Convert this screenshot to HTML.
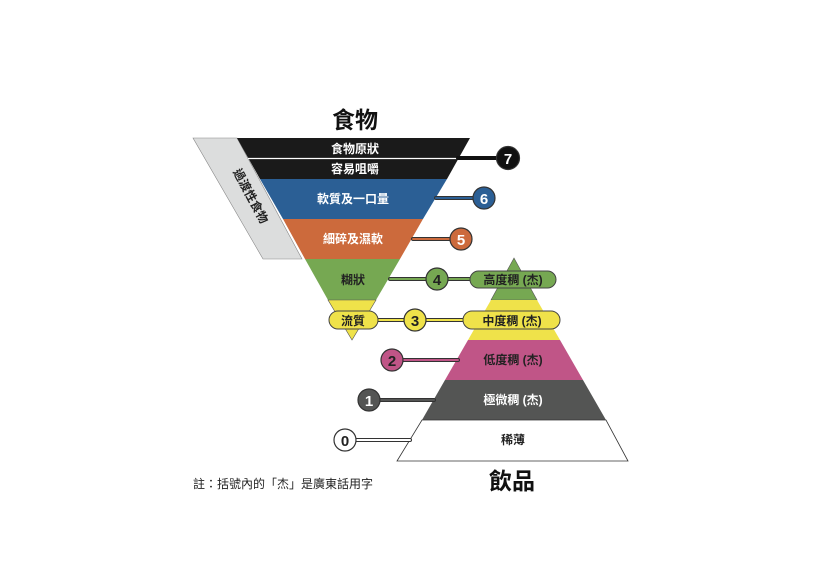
<!DOCTYPE html>
<html><head><meta charset="utf-8"><style>
html,body{margin:0;padding:0;background:#fff;}
svg{display:block;}
text{font-family:"Liberation Sans","Noto Sans CJK TC",sans-serif;font-weight:bold;}
</style></head><body>
<svg width="814" height="562" viewBox="0 0 814 562" xmlns="http://www.w3.org/2000/svg">
<rect width="814" height="562" fill="#fff"/>
<text x="355" y="128" font-size="23" text-anchor="middle" fill="#111">食物</text>
<!-- gray parallelogram -->
<polygon points="193,138 237,138 302,259 263,259" fill="#dcdddd" stroke="#888" stroke-width="0.6"/>
<text transform="translate(247,198) rotate(62)" font-size="12" text-anchor="middle" fill="#222">過渡性食物</text>
<!-- inverted triangle bands -->
<polygon points="237,138 470,138 447,179 260,179" fill="#1a1a1a"/>
<line x1="248" y1="158.5" x2="458" y2="158.5" stroke="#fff" stroke-width="1.2"/>
<polygon points="260,179 447,179 423,219 283,219" fill="#2b5f95"/>
<polygon points="283,219 423,219 400,259 305,259" fill="#cc6a3c"/>
<polygon points="305,259 400,259 376,300 328,300" fill="#76a852"/>
<polygon points="328,300 376,300 352,340" fill="#efe24a" stroke="#555" stroke-width="0.6"/>
<text x="355" y="153" font-size="12" text-anchor="middle" fill="#fff">食物原狀</text>
<text x="355" y="173" font-size="12" text-anchor="middle" fill="#fff">容易咀嚼</text>
<text x="353" y="203" font-size="12" text-anchor="middle" fill="#fff">軟質及一口量</text>
<text x="353" y="243" font-size="12" text-anchor="middle" fill="#fff">細碎及濕軟</text>
<text x="353" y="284" font-size="12" text-anchor="middle" fill="#222">糊狀</text>
<!-- upright pyramid -->
<polygon points="514,258 537,300 491,300" fill="#76a852" stroke="#555" stroke-width="0.6"/>
<polygon points="491,300 537,300 560,340 468,340" fill="#efe24a"/>
<polygon points="468,340 560,340 583,380 445,380" fill="#c05587"/>
<polygon points="445,380 583,380 606,420 422,420" fill="#545554"/>
<polygon points="422,420 606,420 628,461 397,461" fill="#fff" stroke="#333" stroke-width="0.8"/>
<text x="513" y="364" font-size="12" text-anchor="middle" fill="#222">低度稠 (杰)</text>
<text x="513" y="404" font-size="12" text-anchor="middle" fill="#fff">極微稠 (杰)</text>
<text x="513" y="444" font-size="12" text-anchor="middle" fill="#222">稀薄</text>
<text x="512" y="489" font-size="23" text-anchor="middle" fill="#111">飲品</text>
<!-- connectors -->
<g stroke-linecap="round">
<line x1="458" y1="158" x2="500" y2="158" stroke="#111" stroke-width="4"/>
<line x1="436" y1="198" x2="476" y2="198" stroke="#333" stroke-width="4"/><line x1="436" y1="198" x2="476" y2="198" stroke="#2b5f95" stroke-width="2"/>
<line x1="413" y1="239" x2="453" y2="239" stroke="#333" stroke-width="4"/><line x1="413" y1="239" x2="453" y2="239" stroke="#cc6a3c" stroke-width="2"/>
<line x1="390" y1="279" x2="475" y2="279" stroke="#333" stroke-width="4"/><line x1="390" y1="279" x2="475" y2="279" stroke="#76a852" stroke-width="2"/>
<line x1="375" y1="320" x2="468" y2="320" stroke="#333" stroke-width="4"/><line x1="375" y1="320" x2="468" y2="320" stroke="#efe24a" stroke-width="2"/>
<line x1="400" y1="360" x2="458" y2="360" stroke="#333" stroke-width="4"/><line x1="400" y1="360" x2="458" y2="360" stroke="#c05587" stroke-width="2"/>
<line x1="377" y1="400" x2="434" y2="400" stroke="#333" stroke-width="4"/><line x1="377" y1="400" x2="434" y2="400" stroke="#545554" stroke-width="2"/>
<line x1="353" y1="440" x2="410" y2="440" stroke="#333" stroke-width="4"/><line x1="353" y1="440" x2="410" y2="440" stroke="#fff" stroke-width="2"/>
</g>
<!-- pills -->
<rect x="470" y="271" width="86" height="17" rx="8.5" fill="#76a852" stroke="#444" stroke-width="1"/>
<text x="513" y="284" font-size="12" text-anchor="middle" fill="#222">高度稠 (杰)</text>
<rect x="463" y="311" width="97" height="18" rx="9" fill="#efe24a" stroke="#444" stroke-width="1"/>
<text x="512" y="325" font-size="12" text-anchor="middle" fill="#222">中度稠 (杰)</text>
<rect x="329" y="311" width="49" height="18" rx="9" fill="#efe24a" stroke="#444" stroke-width="1"/>
<text x="353" y="325" font-size="12" text-anchor="middle" fill="#222">流質</text>
<!-- circles -->
<g stroke="#333" stroke-width="1.2" font-size="15">
<circle cx="508" cy="158" r="11.5" fill="#111"/>
<circle cx="484" cy="198" r="11" fill="#2b5f95"/>
<circle cx="461" cy="239" r="11" fill="#cc6a3c"/>
<circle cx="437" cy="279" r="11" fill="#76a852"/>
<circle cx="415" cy="320" r="11" fill="#efe24a"/>
<circle cx="392" cy="360" r="11" fill="#c05587"/>
<circle cx="369" cy="400" r="11" fill="#545554"/>
<circle cx="345" cy="440" r="11" fill="#fff"/>
</g>
<g font-size="15" text-anchor="middle">
<text x="508" y="164" fill="#fff">7</text>
<text x="484" y="204" fill="#fff">6</text>
<text x="461" y="245" fill="#fff">5</text>
<text x="437" y="285" fill="#222">4</text>
<text x="415" y="326" fill="#222">3</text>
<text x="392" y="366" fill="#222">2</text>
<text x="369" y="406" fill="#fff">1</text>
<text x="345" y="446" fill="#222">0</text>
</g>
<text x="193" y="488" font-size="12" font-weight="normal" style="font-weight:normal" fill="#222">註：括號內的「杰」是廣東話用字</text>
</svg>
</body></html>
